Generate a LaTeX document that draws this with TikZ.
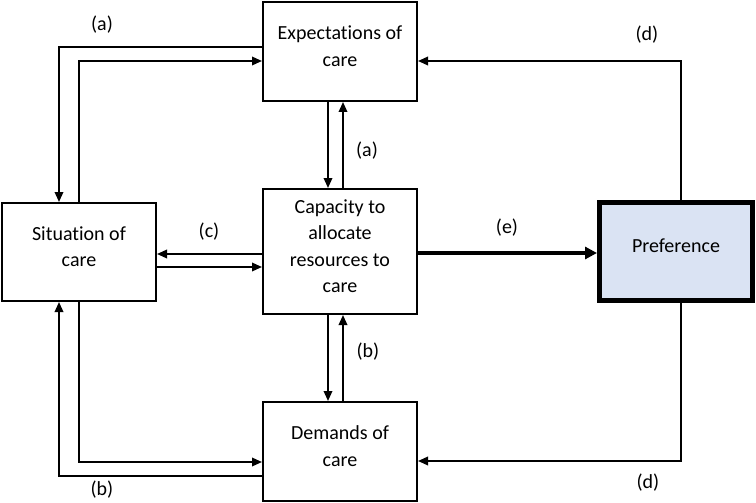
\documentclass[tikz,border=0pt]{standalone}
\usepackage{fontspec}
\setmainfont{Carlito}[Ligatures=NoCommon]
\usetikzlibrary{arrows.meta,calc}
\definecolor{prefblue}{HTML}{DAE3F3}
\begin{document}
\begin{tikzpicture}[x=1pt,y=-1pt,
  box/.style={draw=black,line width=2pt,fill=white,align=center,
    font=\fontsize{20}{26.5}\selectfont,inner sep=0pt,minimum width=154pt,text depth=11pt},
  prefbox/.style={draw=black,line width=5pt,fill=prefblue,align=center,
    font=\fontsize{20}{26.5}\selectfont,inner sep=0pt,minimum width=153pt,minimum height=98pt,text depth=11pt},
  arr/.style={line width=1.8pt,-{Triangle[length=10pt,width=8.5pt]}},
  thickarr/.style={line width=4pt,-{Triangle[length=12pt,width=12pt]}},
  lbl/.style={font=\fontsize{20}{26}\selectfont,inner sep=0pt}]
\useasboundingbox (0,0) rectangle (756,503);
\node[box,minimum height=99pt] (exp) at (340,51.5) {Expectations of\\care};
\node[box,minimum height=98pt] (sit) at (79,252) {Situation of\\care};
\node[box,minimum height=125pt] (cap) at (340,251.5) {Capacity to\\allocate\\resources to\\care};
\node[box,minimum height=99pt] (dem) at (340,451.5) {Demands of\\care};
\node[prefbox] (pref) at (676,251.5) {Preference};

\draw[arr] ([yshift=4.5pt]exp.west) -| ([xshift=-20pt]sit.north);
\draw[arr] (sit.north) |- ([yshift=-9.5pt]exp.west);
\draw[arr] ([xshift=-12pt]exp.south) -- ([xshift=-12pt]cap.north);
\draw[arr] ([xshift=3pt]cap.north) -- ([xshift=3pt]exp.south);
\draw[arr] ([xshift=-12pt]cap.south) -- ([xshift=-12pt]dem.north);
\draw[arr] ([xshift=3pt]dem.north) -- ([xshift=3pt]cap.south);
\draw[arr] ([yshift=-2.5pt]cap.west) -- ([yshift=-2pt]sit.east);
\draw[arr] ([yshift=-15pt]sit.east) -- ([yshift=-15.5pt]cap.west);
\draw[arr] (sit.south) |- ([yshift=-10.5pt]dem.west);
\draw[arr] ([yshift=-24.5pt]dem.west) -| ([xshift=-20pt]sit.south);
\draw[thickarr] ([yshift=-1.5pt]cap.east) -- ([yshift=-1.5pt]pref.west);
\draw[arr] ([xshift=5pt]pref.north) |- ([yshift=-9.5pt]exp.east);
\draw[arr] ([xshift=5pt]pref.south) |- ([yshift=-9.5pt]dem.east);

\node[lbl] (la1) at (102,25) {(a)};
\node[lbl] (la2) at (367,151) {(a)};
\node[lbl] (lb1) at (368,352) {(b)};
\node[lbl] (lb2) at (102,490) {(b)};
\node[lbl] (lc) at (209,232) {(c)};
\node[lbl] (le) at (507,228) {(e)};
\node[lbl] (ld1) at (647,35) {(d)};
\node[lbl] (ld2) at (648,483) {(d)};
\end{tikzpicture}
\end{document}
